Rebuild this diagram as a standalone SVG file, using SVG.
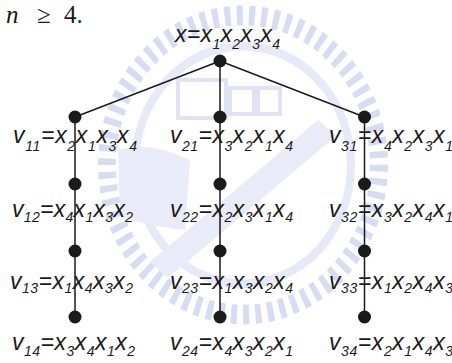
<svg xmlns="http://www.w3.org/2000/svg" width="452" height="363" viewBox="0 0 452 363">
  <style>
    .wm-ticks { fill: none; stroke: #d6dcf2; stroke-width: 18; stroke-dasharray: 6 6.2; }
    .wm-ring { fill: none; stroke: #e6e9f7; stroke-width: 8; }
    .wm-fill { fill: #e9ecf8; }
    .wm-box { fill: none; stroke: #dfe3f5; stroke-width: 4; }
    .edge { stroke: #1a1a1a; stroke-width: 1.5; fill: none; }
    .dot { fill: #1a1a1a; }
    .lbl { font-family: "Liberation Sans", Arial, sans-serif; font-style: italic; font-size: 23px; fill: #1a1a1a; }
    .s { font-size: 14px; }
    .math { font-family: "Liberation Serif", "DejaVu Serif", serif; font-size: 25px; fill: #1a1a1a; }
  </style>

  <rect width="452" height="363" fill="#ffffff"/>

  <!-- faint background emblem -->
  <g id="emblem">
    <g transform="translate(243,165) scale(1,1.1)">
      <circle class="wm-ticks" r="136"/>
      <circle class="wm-ring" r="108"/>
    </g>
    <rect class="wm-box" x="178" y="80" width="48" height="38"/>
    <rect class="wm-box" x="230" y="88" width="24" height="26"/>
    <rect class="wm-box" x="258" y="88" width="22" height="26"/>
    <path class="wm-fill" d="M150 262 L318 120 L336 136 L168 278 Z"/>
    <path class="wm-fill" d="M118 150 Q150 140 190 160 L185 230 Q140 225 120 215 Z"/>
  </g>

  <!-- connectors -->
  <g id="edges">
    <line class="edge" x1="220" y1="61" x2="75" y2="117"/>
    <line class="edge" x1="220" y1="61" x2="220" y2="117"/>
    <line class="edge" x1="220" y1="61" x2="364.5" y2="117"/>
    <line class="edge" x1="75" y1="117" x2="75" y2="317"/>
    <line class="edge" x1="220" y1="117" x2="220" y2="317"/>
    <line class="edge" x1="364.5" y1="117" x2="364.5" y2="317"/>
  </g>

  <!-- heading fragment -->
  <text class="math" y="23"><tspan x="6" font-style="italic">n</tspan><tspan x="37">≥</tspan><tspan x="64">4.</tspan></text>

  <!-- root -->
  <g id="root">
    <circle class="dot" cx="220" cy="61" r="6.5"/>
    <text class="lbl" x="175" y="42" textLength="105" lengthAdjust="spacing">x=x<tspan class="s" dy="7">1</tspan><tspan dy="-7">x</tspan><tspan class="s" dy="7">2</tspan><tspan dy="-7">x</tspan><tspan class="s" dy="7">3</tspan><tspan dy="-7">x</tspan><tspan class="s" dy="7">4</tspan></text>
  </g>

  <!-- column 1 -->
  <g id="v11">
    <circle class="dot" cx="75" cy="117" r="6.5"/>
    <text class="lbl" x="13" y="143" textLength="124" lengthAdjust="spacing">v<tspan class="s" dy="8">11</tspan><tspan dy="-8">=x</tspan><tspan class="s" dy="8">2</tspan><tspan dy="-8">x</tspan><tspan class="s" dy="8">1</tspan><tspan dy="-8">x</tspan><tspan class="s" dy="8">3</tspan><tspan dy="-8">x</tspan><tspan class="s" dy="8">4</tspan></text>
  </g>
  <g id="v12">
    <circle class="dot" cx="75" cy="184" r="6.5"/>
    <text class="lbl" x="12" y="217" textLength="121" lengthAdjust="spacing">v<tspan class="s" dy="5">12</tspan><tspan dy="-5">=x</tspan><tspan class="s" dy="5">4</tspan><tspan dy="-5">x</tspan><tspan class="s" dy="5">1</tspan><tspan dy="-5">x</tspan><tspan class="s" dy="5">3</tspan><tspan dy="-5">x</tspan><tspan class="s" dy="5">2</tspan></text>
  </g>
  <g id="v13">
    <circle class="dot" cx="75" cy="251" r="6.5"/>
    <text class="lbl" x="10" y="289" textLength="123" lengthAdjust="spacing">v<tspan class="s" dy="4">13</tspan><tspan dy="-4">=x</tspan><tspan class="s" dy="4">1</tspan><tspan dy="-4">x</tspan><tspan class="s" dy="4">4</tspan><tspan dy="-4">x</tspan><tspan class="s" dy="4">3</tspan><tspan dy="-4">x</tspan><tspan class="s" dy="4">2</tspan></text>
  </g>
  <g id="v14">
    <circle class="dot" cx="75" cy="317" r="6.5"/>
    <text class="lbl" x="12" y="350" textLength="123" lengthAdjust="spacing">v<tspan class="s" dy="6">14</tspan><tspan dy="-6">=x</tspan><tspan class="s" dy="6">3</tspan><tspan dy="-6">x</tspan><tspan class="s" dy="6">4</tspan><tspan dy="-6">x</tspan><tspan class="s" dy="6">1</tspan><tspan dy="-6">x</tspan><tspan class="s" dy="6">2</tspan></text>
  </g>

  <!-- column 2 -->
  <g id="v21">
    <circle class="dot" cx="220" cy="117" r="6.5"/>
    <text class="lbl" x="170" y="143" textLength="123" lengthAdjust="spacing">v<tspan class="s" dy="8">21</tspan><tspan dy="-8">=x</tspan><tspan class="s" dy="8">3</tspan><tspan dy="-8">x</tspan><tspan class="s" dy="8">2</tspan><tspan dy="-8">x</tspan><tspan class="s" dy="8">1</tspan><tspan dy="-8">x</tspan><tspan class="s" dy="8">4</tspan></text>
  </g>
  <g id="v22">
    <circle class="dot" cx="220" cy="184" r="6.5"/>
    <text class="lbl" x="170" y="217" textLength="123" lengthAdjust="spacing">v<tspan class="s" dy="5">22</tspan><tspan dy="-5">=x</tspan><tspan class="s" dy="5">2</tspan><tspan dy="-5">x</tspan><tspan class="s" dy="5">3</tspan><tspan dy="-5">x</tspan><tspan class="s" dy="5">1</tspan><tspan dy="-5">x</tspan><tspan class="s" dy="5">4</tspan></text>
  </g>
  <g id="v23">
    <circle class="dot" cx="220" cy="251" r="6.5"/>
    <text class="lbl" x="170" y="289" textLength="123" lengthAdjust="spacing">v<tspan class="s" dy="4">23</tspan><tspan dy="-4">=x</tspan><tspan class="s" dy="4">1</tspan><tspan dy="-4">x</tspan><tspan class="s" dy="4">3</tspan><tspan dy="-4">x</tspan><tspan class="s" dy="4">2</tspan><tspan dy="-4">x</tspan><tspan class="s" dy="4">4</tspan></text>
  </g>
  <g id="v24">
    <circle class="dot" cx="220" cy="317" r="6.5"/>
    <text class="lbl" x="170" y="350" textLength="123" lengthAdjust="spacing">v<tspan class="s" dy="6">24</tspan><tspan dy="-6">=x</tspan><tspan class="s" dy="6">4</tspan><tspan dy="-6">x</tspan><tspan class="s" dy="6">3</tspan><tspan dy="-6">x</tspan><tspan class="s" dy="6">2</tspan><tspan dy="-6">x</tspan><tspan class="s" dy="6">1</tspan></text>
  </g>

  <!-- column 3 -->
  <g id="v31">
    <circle class="dot" cx="364.5" cy="117" r="6.5"/>
    <text class="lbl" x="329" y="143" textLength="124" lengthAdjust="spacing">v<tspan class="s" dy="8">31</tspan><tspan dy="-8">=x</tspan><tspan class="s" dy="8">4</tspan><tspan dy="-8">x</tspan><tspan class="s" dy="8">2</tspan><tspan dy="-8">x</tspan><tspan class="s" dy="8">3</tspan><tspan dy="-8">x</tspan><tspan class="s" dy="8">1</tspan></text>
  </g>
  <g id="v32">
    <circle class="dot" cx="364.5" cy="184" r="6.5"/>
    <text class="lbl" x="329" y="217" textLength="124" lengthAdjust="spacing">v<tspan class="s" dy="5">32</tspan><tspan dy="-5">=x</tspan><tspan class="s" dy="5">3</tspan><tspan dy="-5">x</tspan><tspan class="s" dy="5">2</tspan><tspan dy="-5">x</tspan><tspan class="s" dy="5">4</tspan><tspan dy="-5">x</tspan><tspan class="s" dy="5">1</tspan></text>
  </g>
  <g id="v33">
    <circle class="dot" cx="364.5" cy="251" r="6.5"/>
    <text class="lbl" x="329" y="289" textLength="124" lengthAdjust="spacing">v<tspan class="s" dy="4">33</tspan><tspan dy="-4">=x</tspan><tspan class="s" dy="4">1</tspan><tspan dy="-4">x</tspan><tspan class="s" dy="4">2</tspan><tspan dy="-4">x</tspan><tspan class="s" dy="4">4</tspan><tspan dy="-4">x</tspan><tspan class="s" dy="4">3</tspan></text>
  </g>
  <g id="v34">
    <circle class="dot" cx="364.5" cy="317" r="6.5"/>
    <text class="lbl" x="329" y="350" textLength="124" lengthAdjust="spacing">v<tspan class="s" dy="6">34</tspan><tspan dy="-6">=x</tspan><tspan class="s" dy="6">2</tspan><tspan dy="-6">x</tspan><tspan class="s" dy="6">1</tspan><tspan dy="-6">x</tspan><tspan class="s" dy="6">4</tspan><tspan dy="-6">x</tspan><tspan class="s" dy="6">3</tspan></text>
  </g>
</svg>
